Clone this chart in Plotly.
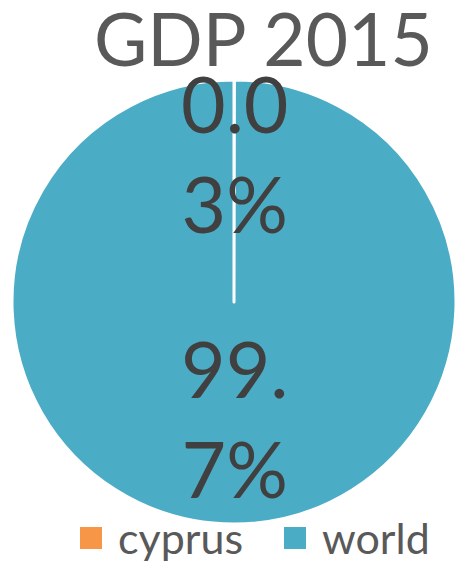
import plotly.graph_objects as go

# Data
categories = ["cyprus", "world"]
shares = [0.03, 99.97]
slice_labels = ["0.0<br>3%", "99.<br>7%"]
colors = ["#F79646", "#4BACC6"]
title_text = "GDP 2015"

FONT = "Lato, Carlito, Calibri, sans-serif"

fig = go.Figure(
    go.Pie(
        labels=categories,
        values=shares,
        sort=False,
        direction="clockwise",
        rotation=0,
        marker=dict(colors=colors, line=dict(color="white", width=3)),
        textinfo="none",
        hoverinfo="label+percent",
        showlegend=False,
        domain=dict(x=[12 / 456, 456 / 456], y=[1 - 524 / 562, 1 - 80 / 562]),
    )
)

# Slice labels placed inside the pie
label_y = [1 - 153 / 562, 1 - 418 / 562]
for txt, y in zip(slice_labels, label_y):
    fig.add_annotation(
        x=235 / 456, y=y, xref="paper", yref="paper",
        text=txt, showarrow=False, xanchor="center", yanchor="middle",
        font=dict(family=FONT, size=77, color="#404040"),
    )

# Title
fig.add_annotation(
    x=263 / 456, y=1 - 38 / 562, xref="paper", yref="paper",
    text=title_text, showarrow=False, xanchor="center", yanchor="middle",
    font=dict(family=FONT, size=73, color="#595959"),
)

# Legend drawn below the pie
legend_x = [80, 284]
for name, col, lx in zip(categories, colors, legend_x):
    fig.add_shape(
        type="rect", xref="paper", yref="paper",
        x0=lx / 456, x1=(lx + 22) / 456,
        y0=1 - 549 / 562, y1=1 - 527 / 562,
        fillcolor=col, line=dict(width=0),
    )
    fig.add_annotation(
        x=(lx + 36) / 456, y=1 - 537 / 562, xref="paper", yref="paper",
        text=name, showarrow=False, xanchor="left", yanchor="middle",
        font=dict(family=FONT, size=43, color="#595959"),
    )

fig.update_layout(
    width=456, height=562,
    margin=dict(l=0, r=0, t=0, b=0),
    paper_bgcolor="white",
    plot_bgcolor="white",
)

fig.write_html("out.html")
